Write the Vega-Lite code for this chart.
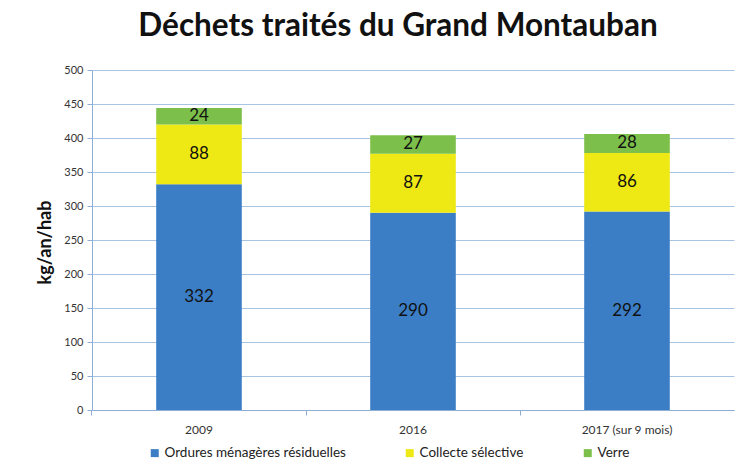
{
  "$schema": "https://vega.github.io/schema/vega-lite/v6.json",
  "width": 642,
  "height": 340,
  "autosize": {"type": "none"},
  "padding": {"left": 92, "top": 70, "right": 10, "bottom": 58},
  "background": "white",
  "config": {"view": {"stroke": null}, "font": "Lato"},
  "title": {
    "text": "Déchets traités du Grand Montauban",
    "font": "Lato",
    "fontSize": 31.5,
    "fontWeight": "bold",
    "color": "#111111",
    "anchor": "middle",
    "dx": -15,
    "offset": 22
  },
  "data": {
    "values": [
      {"annee": "2009", "type": "Ordures ménagères résiduelles", "ordre": 1, "valeur": 332},
      {"annee": "2009", "type": "Collecte sélective", "ordre": 2, "valeur": 88},
      {"annee": "2009", "type": "Verre", "ordre": 3, "valeur": 24},
      {"annee": "2016", "type": "Ordures ménagères résiduelles", "ordre": 1, "valeur": 290},
      {"annee": "2016", "type": "Collecte sélective", "ordre": 2, "valeur": 87},
      {"annee": "2016", "type": "Verre", "ordre": 3, "valeur": 27},
      {"annee": "2017 (sur 9 mois)", "type": "Ordures ménagères résiduelles", "ordre": 1, "valeur": 292},
      {"annee": "2017 (sur 9 mois)", "type": "Collecte sélective", "ordre": 2, "valeur": 86},
      {"annee": "2017 (sur 9 mois)", "type": "Verre", "ordre": 3, "valeur": 28}
    ]
  },
  "encoding": {
    "x": {
      "field": "annee",
      "type": "nominal",
      "sort": null,
      "scale": {"paddingInner": 0.6, "paddingOuter": 0.3},
      "axis": {
        "title": null,
        "labelAngle": 0,
        "labelFont": "Lato",
        "labelFontSize": 12,
        "labelColor": "#333333",
        "labelPadding": 9,
        "domainColor": "#8EAFD3",
        "tickColor": "#8EAFD3",
        "bandPosition": -0.75,
        "tickSize": 5,
        "grid": false
      }
    },
    "y": {
      "field": "valeur",
      "type": "quantitative",
      "stack": "zero",
      "scale": {"domain": [0, 500], "nice": false},
      "axis": {
        "values": [0, 50, 100, 150, 200, 250, 300, 350, 400, 450, 500],
        "title": "kg/an/hab",
        "titleFont": "Lato",
        "titleFontSize": 18,
        "titleFontWeight": "bold",
        "titleColor": "#111111",
        "titleX": -47,
        "titleY": 172,
        "titleAngle": -90,
        "titleAlign": "center",
        "titleBaseline": "middle",
        "labelFont": "Lato",
        "labelFontSize": 11,
        "labelColor": "#333333",
        "labelPadding": 4,
        "domainColor": "#8EAFD3",
        "tickColor": "#8EAFD3",
        "tickSize": 5,
        "gridColor": "#A9C4E2",
        "gridWidth": 1
      }
    }
  },
  "layer": [
    {
      "mark": {"type": "bar"},
      "encoding": {
        "color": {
          "field": "type",
          "type": "nominal",
          "sort": ["Ordures ménagères résiduelles", "Collecte sélective", "Verre"],
          "scale": {
            "domain": ["Ordures ménagères résiduelles", "Collecte sélective", "Verre"],
            "range": ["#3B7EC6", "#EEE814", "#7CBF4A"]
          },
          "legend": {
            "title": null,
            "orient": "none",
            "direction": "horizontal",
            "legendX": 56,
            "legendY": 376,
            "symbolType": "square",
            "symbolSize": 64,
            "symbolStrokeWidth": 0,
            "labelFont": "Lato",
            "labelFontSize": 13.5,
            "labelLimit": 400,
            "labelColor": "#222222",
            "columnPadding": 57,
            "labelOffset": 3
          }
        },
        "order": {"field": "ordre", "type": "quantitative"}
      }
    },
    {
      "mark": {"type": "text", "font": "Lato", "fontSize": 17, "color": "#111111", "baseline": "middle"},
      "encoding": {
        "y": {"field": "valeur", "type": "quantitative", "stack": "zero", "bandPosition": 0.5},
        "text": {"field": "valeur", "type": "quantitative"},
        "detail": {"field": "type"},
        "order": {"field": "ordre", "type": "quantitative"}
      }
    }
  ]
}
